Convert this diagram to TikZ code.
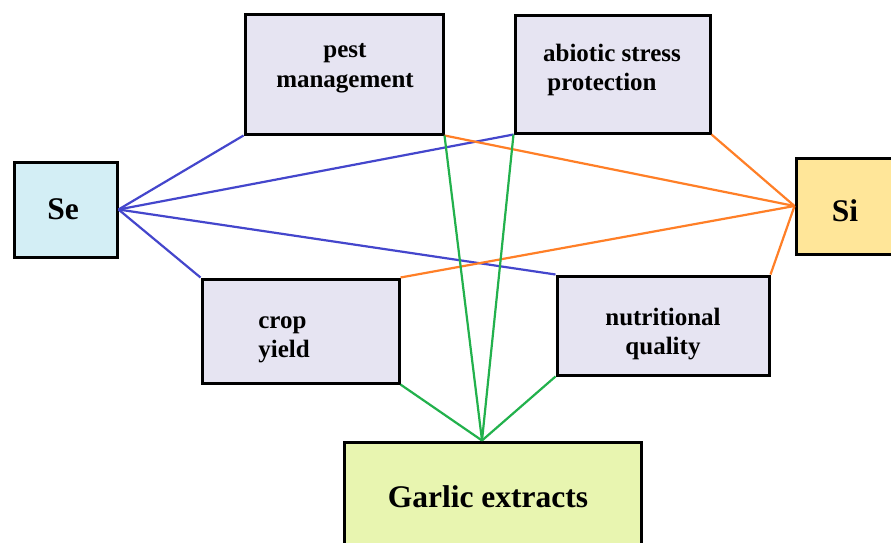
\documentclass[tikz,border=0pt]{standalone}
\usepackage{fontspec}
\setmainfont{Liberation Serif}
\usetikzlibrary{calc}
\definecolor{boxlav}{HTML}{E6E4F2}
\definecolor{boxse}{HTML}{D3EEF5}
\definecolor{boxsi}{HTML}{FFE699}
\definecolor{boxgar}{HTML}{E8F5B0}
\definecolor{lnblue}{HTML}{4446CC}
\definecolor{lnorange}{HTML}{FF7F27}
\definecolor{lngreen}{HTML}{22B14C}
\tikzset{
  boxbase/.style={draw=black, line width=3pt, inner sep=0pt},
  topic/.style={boxbase, fill=boxlav},
  elem/.style={boxbase},
  toptext/.style={font=\bfseries\fontsize{25}{29.5}\selectfont, inner sep=0pt},
  bigtext/.style={font=\bfseries\fontsize{31.5}{36}\selectfont, inner sep=0pt},
  bluelink/.style={draw=lnblue, line width=2.2pt},
  orangelink/.style={draw=lnorange, line width=2.2pt},
  greenlink/.style={draw=lngreen, line width=2.2pt},
}
\begin{document}
\begin{tikzpicture}[x=1pt,y=-1pt]
\useasboundingbox (0,0) rectangle (891,543);
\clip (0,0) rectangle (891,543);
\fill[white] (0,0) rectangle (891,543);

% element boxes
\node[elem, fill=boxse, minimum width=103pt, minimum height=95pt] (se) at (65.5,209.5) {};
\node[elem, fill=boxsi, minimum width=110pt, minimum height=96pt] (si) at (851,206) {};
\node[elem, fill=boxgar, minimum width=297pt, minimum height=130pt] (garlic) at (492.5,507) {};

% topic boxes
\node[topic, minimum width=198pt, minimum height=119pt] (pest) at (344,74.5) {};
\node[topic, minimum width=195pt, minimum height=117pt] (abiotic) at (612.5,74.5) {};
\node[topic, minimum width=197pt, minimum height=104pt] (crop) at (300.5,331) {};
\node[topic, minimum width=212pt, minimum height=99pt] (nutr) at (663,325.5) {};

% labels
\node[bigtext] (setxt) at (63,209) {Se};
\node[bigtext] (sitxt) at (845,211) {Si};
\node[bigtext] (gartxt) at (488,497) {Garlic extracts};
\node[toptext, align=center] (pesttxt) at (345,68) {pest\\management};
\node[toptext, align=center] (abiotxt) at (612,70) {abiotic stress\\\hspace*{-20pt}protection};
\node[toptext, align=left] (croptxt) at (284,340) {crop\\yield};
\node[toptext, align=center] (nutrtxt) at (663,334) {nutritional\\quality};

% hub point on top of the garlic box
\coordinate (g) at ($(garlic.north west)!0.465!(garlic.north east)$);

% Se links
\draw[bluelink] (se.east) -- (pest.south west);
\draw[bluelink] (se.east) -- (abiotic.south west);
\draw[bluelink] (se.east) -- (crop.north west);
\draw[bluelink] (se.east) -- (nutr.north west);

% Si links
\draw[orangelink] (si.west) -- (pest.south east);
\draw[orangelink] (si.west) -- (abiotic.south east);
\draw[orangelink] (si.west) -- (crop.north east);
\draw[orangelink] (si.west) -- (nutr.north east);

% garlic extract links
\draw[greenlink] (g) -- (crop.south east);
\draw[greenlink] (g) -- (nutr.south west);
\draw[greenlink] (g) -- (pest.south east);
\draw[greenlink] (g) -- (abiotic.south west);
\end{tikzpicture}
\end{document}
